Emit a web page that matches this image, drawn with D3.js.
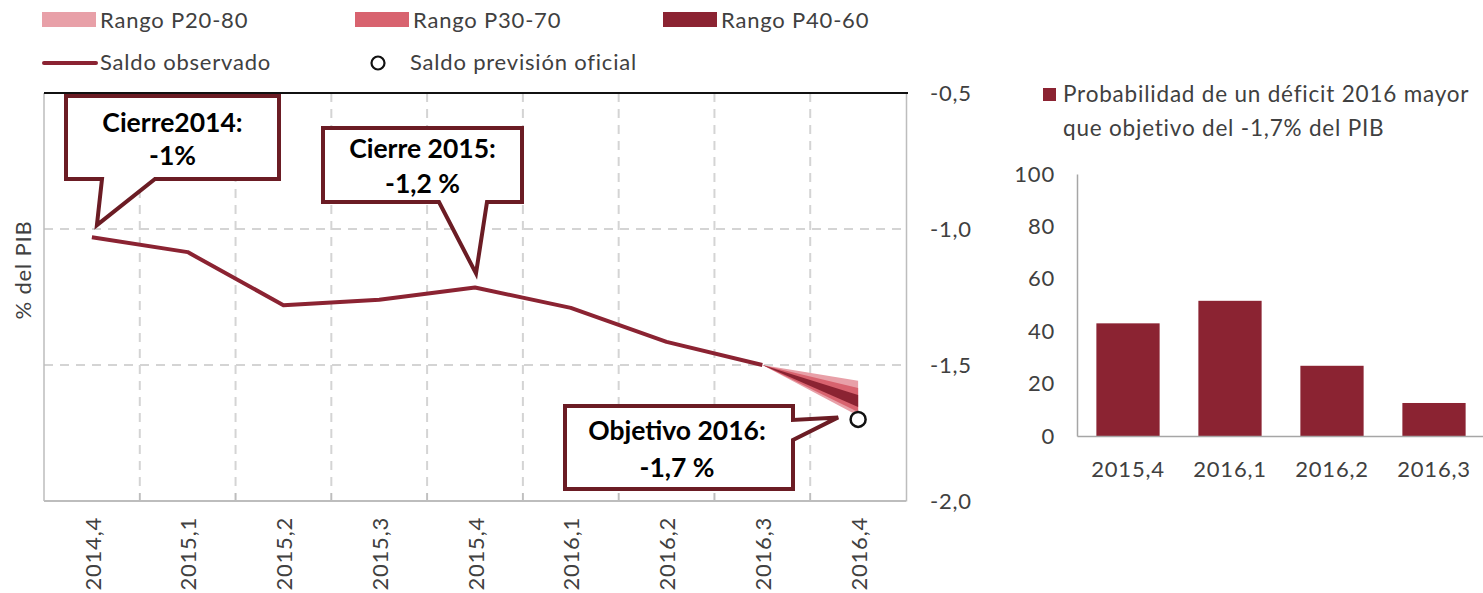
<!DOCTYPE html>
<html>
<head>
<meta charset="utf-8">
<script src="https://cdn.jsdelivr.net/npm/d3@7"></script>
<style>
  body { margin: 0; background: #fff; }
  svg { font-family: Lato, "Open Sans", sans-serif; }
  .lbl { letter-spacing: 0.8px; }
</style>
</head>
<body>
<svg id="chart" width="1483" height="593"></svg>
<script>
// datos del gráfico principal (% del PIB)
const quarters = ["2014,4", "2015,1", "2015,2", "2015,3", "2015,4", "2016,1", "2016,2", "2016,3", "2016,4"];
const saldoObservado = [-1.03, -1.085, -1.28, -1.26, -1.215, -1.29, -1.415, -1.5];
const objetivo2016 = -1.7;
const yTicks = [-0.5, -1.0, -1.5, -2.0];

// abanico de predicción 2016,3 -> 2016,4
const fanQuarters = ["2016,3", "2016,4"];
const p20 = [-1.5, -1.687], p80 = [-1.5, -1.558];
const p30 = [-1.5, -1.673], p70 = [-1.5, -1.585];
const p40 = [-1.5, -1.654], p60 = [-1.5, -1.61];

// probabilidad de déficit mayor que el objetivo
const probQuarters = ["2015,4", "2016,1", "2016,2", "2016,3"];
const probDeficit = [43, 51.6, 26.8, 12.6];
const probTicks = [0, 20, 40, 60, 80, 100];

const C = {
  line: "#8b2332", light: "#e8a0a8", mid: "#d8636f", dark: "#8b2332",
  callout: "#6b1c24", text: "#404040", grid: "#d4d4d4", axis: "#bdbdbd"
};

const loc = d3.formatLocale({ decimal: ",", thousands: ".", grouping: [3], currency: ["", "€"], minus: "-" });
const f1 = loc.format(".1f");

const svg = d3.select("#chart");

// ---------- gráfico de la izquierda ----------
const x = d3.scaleBand().domain(quarters).range([44, 906]);
const cx = q => x(q) + x.bandwidth() / 2;
const y = d3.scaleLinear().domain([-2, -0.5]).range([501, 93]);

const g = svg.append("g");

// rejilla
g.selectAll(".hgrid").data([-1.0, -1.5]).enter().append("line")
  .attr("x1", 44).attr("x2", 906)
  .attr("y1", d => y(d)).attr("y2", d => y(d))
  .attr("stroke", C.grid).attr("stroke-width", 2).attr("stroke-dasharray", "9,7");
g.selectAll(".vgrid").data(quarters.slice(1)).enter().append("line")
  .attr("x1", d => x(d)).attr("x2", d => x(d))
  .attr("y1", y(-0.5)).attr("y2", y(-2))
  .attr("stroke", C.grid).attr("stroke-width", 2).attr("stroke-dasharray", "9,7");

// marco
g.append("line").attr("x1", 44).attr("x2", 44).attr("y1", y(-0.5)).attr("y2", y(-2))
  .attr("stroke", C.axis).attr("stroke-width", 1.5);
g.append("line").attr("x1", 44).attr("x2", 906).attr("y1", y(-2)).attr("y2", y(-2))
  .attr("stroke", C.axis).attr("stroke-width", 2);
g.selectAll(".btick").data(quarters.slice(1)).enter().append("line")
  .attr("x1", d => x(d)).attr("x2", d => x(d))
  .attr("y1", y(-2)).attr("y2", y(-2) - 8)
  .attr("stroke", C.axis).attr("stroke-width", 1.5);

// eje derecho
const yAxis = g.append("g").attr("transform", "translate(906,0)")
  .call(d3.axisRight(y).tickValues(yTicks).tickFormat(f1).tickSize(0).tickSizeOuter(0).tickPadding(24));
yAxis.select(".domain").attr("stroke", C.axis).attr("stroke-width", 1.5);
yAxis.selectAll("text").attr("font-size", 22).attr("fill", C.text)
  .attr("font-family", "Lato, sans-serif").attr("class", "lbl");

g.append("line").attr("x1", 44).attr("x2", 908).attr("y1", y(-0.5)).attr("y2", y(-0.5))
  .attr("stroke", "#111").attr("stroke-width", 2);

// eje inferior (etiquetas verticales)
g.selectAll(".xlab").data(quarters).enter().append("text")
  .attr("class", "lbl")
  .attr("transform", d => `translate(${cx(d) + 1},517) rotate(-90)`)
  .attr("text-anchor", "end").attr("dy", "0.35em")
  .attr("font-size", 22).attr("fill", C.text).text(d => d);

g.append("text").attr("class", "lbl").attr("transform", "translate(23,270) rotate(-90)")
  .attr("text-anchor", "middle").attr("dy", "0.35em")
  .attr("font-size", 22).attr("fill", C.text).text("% del PIB");

// abanico
const fan = (lo, hi, col) => {
  const area = d3.area().x((d, i) => cx(fanQuarters[i]))
    .y0((d, i) => y(lo[i])).y1((d, i) => y(hi[i]));
  g.append("path").datum(lo).attr("d", area).attr("fill", col);
};
fan(p20, p80, C.light);
fan(p30, p70, C.mid);
fan(p40, p60, C.dark);

// saldo observado
const line = d3.line().x((d, i) => cx(quarters[i])).y(d => y(d));
g.append("path").datum(saldoObservado).attr("d", line)
  .attr("fill", "none").attr("stroke", C.line).attr("stroke-width", 4)
  .attr("stroke-linejoin", "round");

// objetivo
g.append("circle").attr("cx", cx("2016,4")).attr("cy", y(objetivo2016)).attr("r", 7.5)
  .attr("fill", "#fff").attr("stroke", "#111").attr("stroke-width", 2.5);

// bocadillos
function calloutBottom(bx, by, bw, bh, b1, b2, tx, ty, lines, ly) {
  const p = `M${bx},${by}H${bx + bw}V${by + bh}H${b2}L${tx},${ty}L${b1},${by + bh}H${bx}Z`;
  g.append("path").attr("d", p).attr("fill", "#fff").attr("stroke", C.callout)
    .attr("stroke-width", 4).attr("stroke-linejoin", "miter");
  lines.forEach((t, i) => g.append("text").attr("x", bx + bw / 2).attr("y", ly[i])
    .attr("text-anchor", "middle").attr("font-size", 26.5).attr("font-weight", 700)
    .attr("fill", "#000").text(t));
}
calloutBottom(66, 96, 213, 83, 102, 155, cx("2014,4") + 5, y(saldoObservado[0]) - 12,
  ["Cierre2014:", "-1%"], [132, 165]);
calloutBottom(323, 128, 199, 74, 439, 487, cx("2015,4") + 1, y(saldoObservado[4]) - 14,
  ["Cierre 2015:", "-1,2 %"], [158, 193]);

{
  const bx = 565, by = 406, bw = 228, bh = 83;
  const tx = cx("2016,4") - 20, ty = y(objetivo2016) - 2;
  const p = `M${bx},${by}H${bx + bw}V420L${tx},${ty}L${bx + bw},440V${by + bh}H${bx}Z`;
  g.append("path").attr("d", p).attr("fill", "#fff").attr("stroke", C.callout).attr("stroke-width", 4);
  ["Objetivo 2016:", "-1,7 %"].forEach((t, i) => g.append("text").attr("x", bx + bw / 2 - 2)
    .attr("y", [440, 477][i]).attr("text-anchor", "middle").attr("font-size", 26.5)
    .attr("font-weight", 700).attr("fill", "#000").text(t));
}

// leyenda
const leg = svg.append("g").attr("font-size", 22).attr("fill", C.text).attr("class", "lbl");
[["Rango P20-80", C.light, 42], ["Rango P30-70", C.mid, 355], ["Rango P40-60", C.dark, 663]]
  .forEach(([t, col, lx]) => {
    leg.append("rect").attr("x", lx).attr("y", 12).attr("width", 54).attr("height", 15).attr("fill", col);
    leg.append("text").attr("x", lx + 58).attr("y", 20).attr("dy", "0.35em").text(t);
  });
leg.append("line").attr("x1", 44).attr("x2", 96).attr("y1", 63).attr("y2", 63)
  .attr("stroke", C.line).attr("stroke-width", 4).attr("stroke-linecap", "round");
leg.append("text").attr("x", 100).attr("y", 62).attr("dy", "0.35em").text("Saldo observado");
leg.append("circle").attr("cx", 378).attr("cy", 63).attr("r", 6.5)
  .attr("fill", "#fff").attr("stroke", "#111").attr("stroke-width", 2.2);
leg.append("text").attr("x", 410).attr("y", 62).attr("dy", "0.35em").text("Saldo previsión oficial");

// ---------- gráfico de la derecha ----------
const xb = d3.scaleBand().domain(probQuarters).range([1077, 1485]).paddingInner(0.38).paddingOuter(0.19);
const yb = d3.scaleLinear().domain([0, 100]).range([436, 174]);
const gb = svg.append("g");

gb.selectAll("rect").data(probDeficit).enter().append("rect")
  .attr("x", (d, i) => xb(probQuarters[i])).attr("width", xb.bandwidth())
  .attr("y", d => yb(d)).attr("height", d => yb(0) - yb(d))
  .attr("fill", C.dark);

const ya = gb.append("g").attr("transform", "translate(1077,0)")
  .call(d3.axisLeft(yb).tickValues(probTicks).tickSize(0).tickSizeOuter(0).tickPadding(22));
ya.select(".domain").attr("stroke", "#a6a6a6").attr("stroke-width", 1.5);
ya.selectAll("text").attr("font-size", 22).attr("fill", C.text)
  .attr("font-family", "Lato, sans-serif").attr("class", "lbl");

const xa = gb.append("g").attr("transform", "translate(0,436)")
  .call(d3.axisBottom(xb).tickSize(0).tickSizeOuter(0).tickPadding(25));
xa.select(".domain").attr("stroke", "#a6a6a6").attr("stroke-width", 1.5);
xa.selectAll("text").attr("font-size", 22).attr("fill", C.text)
  .attr("font-family", "Lato, sans-serif").attr("class", "lbl");

gb.append("rect").attr("x", 1043).attr("y", 88).attr("width", 13).attr("height", 13).attr("fill", C.dark);
gb.append("text").attr("class", "lbl").attr("x", 1063).attr("y", 94).attr("dy", "0.35em")
  .attr("font-size", 22.5).attr("fill", C.text).text("Probabilidad de un déficit 2016 mayor");
gb.append("text").attr("class", "lbl").attr("x", 1063).attr("y", 128).attr("dy", "0.35em")
  .attr("font-size", 22.5).attr("fill", C.text).text("que objetivo del -1,7% del PIB");
</script>
</body>
</html>
